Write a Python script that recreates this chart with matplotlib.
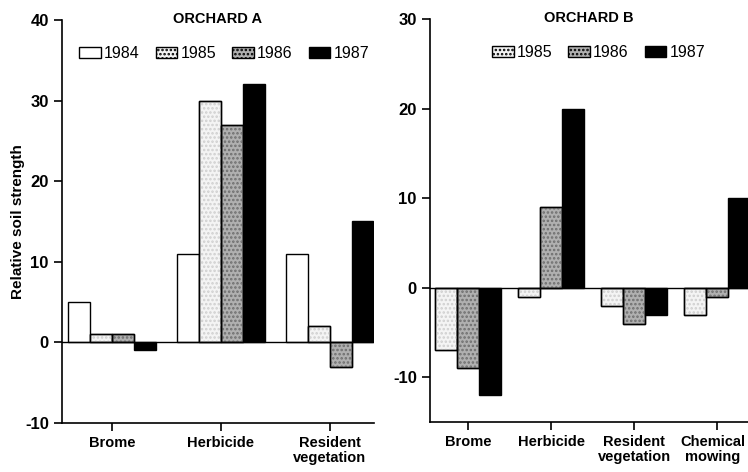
import numpy as np
import matplotlib.pyplot as plt
from matplotlib.patches import Patch
import matplotlib.transforms as mtransforms

plt.rcParams["font.family"] = ["Liberation Sans", "DejaVu Sans"]
plt.rcParams["hatch.linewidth"] = 1.2
plt.rcParams["axes.unicode_minus"] = False

# orchard A
groups_a = ["Brome", "Herbicide", "Resident\nvegetation"]
years_a = ["1984", "1985", "1986", "1987"]
vals_a = {
    "1984": [5, 11, 11],
    "1985": [1, 30, 2],
    "1986": [1, 27, -3],
    "1987": [-1, 32, 15],
}

# orchard B
groups_b = ["Brome", "Herbicide", "Resident\nvegetation", "Chemical\nmowing"]
years_b = ["1985", "1986", "1987"]
vals_b = {
    "1985": [-7, -1, -2, -3],
    "1986": [-9, 9, -4, -1],
    "1987": [-12, 20, -3, 10],
}

styles = {
    "1984": dict(fc="white", hatch=None, hc=None),
    "1985": dict(fc="#f4f4f4", hatch="....", hc="#cfcfcf"),
    "1986": dict(fc="#b0b0b0", hatch="....", hc="#6e6e6e"),
    "1987": dict(fc="black", hatch=None, hc=None),
}


def draw_bars(ax, groups, years, vals, width):
    x = np.arange(len(groups))
    n = len(years)
    for i, yr in enumerate(years):
        pos = x + (i - (n - 1) / 2) * width
        st = styles[yr]
        ax.bar(pos, vals[yr], width, color=st["fc"], edgecolor="black", linewidth=1.0, zorder=2)
        if st["hatch"]:
            ax.bar(pos, vals[yr], width, color="none", edgecolor=st["hc"], hatch=st["hatch"],
                   linewidth=0, zorder=3)
            ax.bar(pos, vals[yr], width, color="none", edgecolor="black", linewidth=1.0, zorder=4)
    ax.axhline(0, color="black", linewidth=1.0, zorder=5)
    ax.set_xticks(x)
    ax.set_xticklabels(groups, fontweight="bold", fontsize=10.5, linespacing=1.1)
    for s in ["top", "right"]:
        ax.spines[s].set_visible(False)
    for s in ["left", "bottom"]:
        ax.spines[s].set_linewidth(1.2)
    ax.tick_params(axis="both", direction="out", length=6, width=1.2)
    ax.tick_params(axis="y", labelsize=12)
    for lab in ax.get_yticklabels():
        lab.set_fontweight("bold")


def legend_handles(years):
    hs = []
    for yr in years:
        st = styles[yr]
        hs.append(Patch(facecolor=st["fc"], edgecolor="black", hatch=st["hatch"], label=yr))
    return hs


fig = plt.figure(figsize=(7.48, 4.72), dpi=100)

ax1 = fig.add_axes([0.0829, 0.1038, 0.417, 0.854])
draw_bars(ax1, groups_a, years_a, vals_a, 0.2)
ax1.set_xlim(-0.459, 2.404)
ax1.set_ylim(-10, 40)
ax1.set_yticks([-10, 0, 10, 20, 30, 40])
ax1.set_ylabel("Relative soil strength", fontweight="bold", fontsize=11)
ax1.yaxis.set_label_coords(-0.118, 0.5)
ax1.set_title("ORCHARD A", fontweight="bold", fontsize=10.5, pad=-2, y=1.0)
ax1.legend(handles=legend_handles(years_a), ncol=4, frameon=False, fontsize=11.5,
           loc="upper center", bbox_to_anchor=(0.52, 0.955), handlelength=1.35,
           handleheight=0.75, handletextpad=0.2, columnspacing=1.0, borderpad=0)

ax2 = fig.add_axes([0.5749, 0.1059, 0.425, 0.8538])
draw_bars(ax2, groups_b, years_b, vals_b, 0.265)
ax2.set_xlim(-0.458, 3.37)
ax2.set_ylim(-15, 30)
ax2.set_yticks([-10, 0, 10, 20, 30])
ax2.set_title("ORCHARD B", fontweight="bold", fontsize=10.5, pad=-2, y=1.0)
ax2.legend(handles=legend_handles(years_b), ncol=3, frameon=False, fontsize=11.5,
           loc="upper center", bbox_to_anchor=(0.53, 0.955), handlelength=1.35,
           handleheight=0.75, handletextpad=0.2, columnspacing=1.0, borderpad=0)

# nudge the last label left so it stays inside the figure
last = ax2.get_xticklabels()[-1]
last.set_transform(last.get_transform() + mtransforms.ScaledTranslation(-3 / 72, 0, fig.dpi_scale_trans))

fig.savefig("out.png", dpi=100)
